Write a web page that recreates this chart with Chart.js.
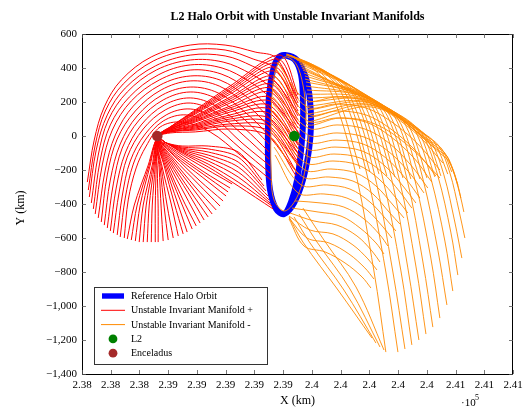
<!DOCTYPE html>
<html>
<head>
<meta charset="utf-8">
<script src="https://cdn.jsdelivr.net/npm/chart.js@4.4.1/dist/chart.umd.min.js"></script>
<style>
  html, body { margin: 0; padding: 0; background: #fff; }
  #wrap { width: 530px; height: 411px; }
</style>
</head>
<body>
<div id="wrap"><canvas id="chart" width="530" height="411"></canvas></div>
<script>
// all values in km
const xMin = 238000, xMax = 241000, xStep = 200;
const yMin = -1400, yMax = 600, yStep = 200;

const l2Point = [239478, 0];
const enceladusPoint = [238524, 0];

// reference halo orbit (traced twice, second pass a bit wider on the right)
const haloOrbit = [
    [239413, 476], [239483, 447], [239525, 359], [239538, 212], [239538, 65], [239525, -82],
    [239497, -259], [239455, -388], [239406, -459], [239351, -429], [239309, -318], [239295, -141],
    [239295, 65], [239302, 241], [239330, 388], [239365, 459], [239413, 476],
    [239497, 447], [239559, 341], [239587, 212], [239594, 65], [239580, -82], [239538, -259],
    [239476, -394], [239406, -459], [239351, -429], [239309, -318], [239295, -141], [239295, 65],
    [239302, 241], [239330, 388], [239365, 459], [239413, 476],
];

// manifold + : arches over the top, down the far left
const manifoldPlusArches = [
    [[239490, 235], [239351, 459], [239205, 494], [238996, 535], [238753, 535], [238482, 465], [238273, 329], [238155, 171], [238085, -24], [238037, -271]],
    [[239504, 176], [239337, 400], [239191, 453], [238996, 506], [238753, 506], [238496, 441], [238287, 306], [238162, 147], [238092, -53], [238044, -318]],
    [[239518, 118], [239323, 341], [239184, 412], [238996, 471], [238753, 476], [238510, 412], [238301, 282], [238176, 124], [238099, -82], [238051, -359]],
    [[239518, 59], [239316, 282], [239177, 365], [238982, 435], [238753, 447], [238517, 388], [238315, 259], [238183, 94], [238113, -112], [238065, -394]],
    [[239525, 0], [239309, 224], [239170, 318], [238975, 400], [238753, 418], [238530, 359], [238329, 229], [238197, 65], [238127, -141], [238079, -429]],
    [[239518, -59], [239302, 165], [239163, 271], [238968, 365], [238753, 388], [238537, 329], [238343, 206], [238211, 35], [238141, -171], [238092, -459]],
    [[239518, -118], [239302, 106], [239156, 224], [238961, 329], [238753, 353], [238544, 300], [238357, 176], [238232, 6], [238162, -200], [238113, -482]],
    [[239511, -171], [239302, 53], [239149, 182], [238955, 294], [238753, 324], [238551, 271], [238371, 147], [238245, -18], [238176, -229], [238134, -506]],
    [[239504, -224], [239302, 0], [239142, 135], [238948, 253], [238753, 288], [238558, 241], [238384, 118], [238266, -47], [238197, -259], [238155, -524]],
    [[239302, -47], [239135, 94], [238941, 218], [238753, 259], [238565, 212], [238398, 94], [238280, -71], [238218, -282], [238176, -541]],
    [[239302, -94], [239128, 47], [238934, 176], [238753, 224], [238572, 182], [238412, 65], [238301, -100], [238238, -306], [238197, -559]],
    [[239302, -135], [239121, 6], [238927, 141], [238753, 194], [238579, 153], [238426, 41], [238315, -124], [238259, -329], [238218, -571]],
    [[239309, -176], [239114, -41], [238920, 106], [238753, 159], [238586, 124], [238440, 12], [238336, -147], [238280, -353], [238245, -582]],
    [[239309, -218], [239107, -76], [238906, 65], [238725, 124], [238565, 88], [238440, -24], [238357, -165], [238301, -365], [238266, -594]],
    [[239316, -259], [239101, -112], [238892, 24], [238697, 82], [238544, 53], [238447, -59], [238377, -188], [238322, -376], [238294, -600]],
];

// manifold + : from the lower side of the halo, under Enceladus, down-left
const manifoldPlusLower = [
    [[239253, -259], [239087, -94], [238878, -59], [238697, -59], [238586, -41], [238524, -12], [238461, -171], [238364, -406], [238315, -606]],
    [[239267, -294], [239087, -124], [238878, -76], [238697, -65], [238586, -41], [238524, -12], [238468, -171], [238384, -406], [238343, -612]],
    [[239281, -323], [239087, -153], [238878, -94], [238697, -71], [238586, -41], [238524, -12], [238475, -171], [238405, -406], [238371, -618]],
    [[239295, -353], [239087, -182], [238878, -112], [238697, -76], [238586, -41], [238524, -12], [238489, -171], [238426, -406], [238398, -624]],
    [[239302, -376], [239087, -212], [238878, -129], [238697, -82], [238586, -41], [238524, -12], [238496, -171], [238447, -406], [238426, -624]],
    [[239309, -394], [239087, -241], [238878, -147], [238697, -88], [238586, -41], [238524, -12], [238503, -171], [238468, -406], [238454, -624]],
    [[239323, -412], [239087, -271], [238878, -165], [238697, -94], [238586, -41], [238524, -12], [238510, -171], [238489, -406], [238482, -624]],
    [[239330, -429], [239087, -294], [238878, -182], [238697, -100], [238586, -41], [238524, -12], [238517, -171], [238510, -406], [238510, -624]],
];

// manifold + : from the upper side of the halo through the Enceladus flyby
const manifoldPlusFlyby = [
    [[239504, 241], [239379, 476], [239031, 294], [238788, 153], [238614, 53], [238524, -6], [238524, -194], [238530, -424], [238530, -624]],
    [[239504, 218], [239365, 453], [239031, 282], [238788, 147], [238614, 53], [238524, -6], [238537, -188], [238551, -424], [238565, -618]],
    [[239504, 194], [239351, 429], [239031, 271], [238788, 141], [238614, 53], [238524, -6], [238544, -188], [238572, -418], [238600, -612]],
    [[239504, 171], [239344, 406], [239031, 259], [238788, 135], [238614, 47], [238524, -6], [238551, -182], [238593, -412], [238635, -600]],
    [[239504, 147], [239337, 382], [239031, 247], [238788, 129], [238614, 47], [238524, -6], [238558, -182], [238621, -400], [238670, -588]],
    [[239504, 118], [239330, 353], [239031, 229], [238788, 118], [238614, 47], [238524, -6], [238572, -176], [238642, -394], [238704, -576]],
    [[239504, 94], [239323, 329], [239031, 218], [238788, 112], [238614, 41], [238524, -6], [238579, -176], [238663, -388], [238732, -565]],
    [[239504, 71], [239316, 306], [239031, 206], [238788, 106], [238614, 41], [238524, -6], [238586, -171], [238683, -376], [238767, -547]],
    [[239504, 47], [239316, 282], [239031, 194], [238788, 100], [238614, 41], [238524, -6], [238593, -165], [238697, -365], [238795, -529]],
    [[239504, 24], [239309, 259], [239031, 176], [238788, 94], [238614, 41], [238524, -6], [238600, -159], [238718, -347], [238822, -512]],
    [[239504, -6], [239309, 229], [239031, 165], [238788, 88], [238614, 35], [238524, -6], [238607, -153], [238739, -335], [238850, -494]],
    [[239504, -29], [239309, 206], [239031, 153], [238788, 82], [238614, 35], [238524, -6], [238614, -147], [238753, -323], [238878, -476]],
    [[239504, -53], [239302, 182], [239031, 141], [238788, 71], [238614, 35], [238524, -6], [238621, -141], [238774, -312], [238906, -459]],
    [[239504, -76], [239302, 159], [239031, 124], [238788, 65], [238614, 29], [238524, -6], [238628, -135], [238788, -300], [238934, -435]],
    [[239504, -100], [239302, 135], [239031, 112], [238788, 59], [238614, 29], [238524, -6], [238635, -129], [238809, -282], [238961, -412]],
    [[239504, -129], [239302, 106], [239031, 100], [238788, 53], [238614, 29], [238524, -6], [238642, -118], [238822, -265], [238982, -382]],
    [[239504, -153], [239302, 82], [239031, 88], [238788, 47], [238614, 24], [238524, -6], [238642, -112], [238836, -241], [239003, -353]],
    [[239504, -176], [239302, 59], [239031, 71], [238788, 41], [238614, 24], [238524, -6], [238649, -106], [238843, -224], [239017, -329]],
    [[239490, -206], [239302, 29], [239031, 59], [238788, 35], [238614, 24], [238524, -6], [238649, -94], [238850, -212], [239031, -306]],
    [[239490, -235], [239302, 0], [239031, 41], [238788, 24], [238614, 18], [238524, -6], [238656, -88], [238864, -194], [239045, -282]],
];

// manifold - : along the upper envelope, then steeply down (some still on their way)
const manifoldMinusLegs = [
    [[239420, 482], [239552, 435], [239719, 282], [239893, -176], [240032, -794], [240115, -1271]],
    [[239420, 476], [239594, 418], [239761, 265], [239935, -194]],
    [[239427, 482], [239643, 400], [239810, 247], [239976, -200], [240115, -800], [240199, -1271]],
    [[239434, 476], [239677, 382], [239844, 235], [240004, -212]],
    [[239448, 476], [239712, 371], [239872, 224], [240032, -212], [240164, -800], [240248, -1253]],
    [[239455, 471], [239747, 353], [239907, 212], [240067, -224]],
    [[239469, 465], [239782, 335], [239935, 194], [240088, -229], [240220, -794], [240296, -1229]],
    [[239476, 459], [239817, 318], [239969, 182], [240122, -235]],
    [[239490, 453], [239851, 306], [239997, 171], [240150, -235], [240268, -776], [240345, -1200]],
    [[239497, 447], [239886, 288], [240032, 153], [240178, -241]],
    [[239511, 435], [239921, 271], [240060, 141], [240206, -247], [240324, -765], [240394, -1165]],
    [[239518, 424], [239956, 253], [240095, 129], [240234, -247]],
    [[239525, 412], [239761, 312], [239990, 235], [240129, 112], [240262, -253], [240373, -741], [240442, -1124]],
    [[239532, 400], [239782, 300], [240025, 218], [240157, 100], [240289, -253]],
    [[239538, 388], [239803, 294], [240060, 200], [240192, 88], [240317, -259], [240428, -718], [240491, -1071]],
    [[239545, 371], [239823, 282], [240095, 182], [240220, 71], [240352, -253]],
    [[239552, 353], [239844, 276], [240129, 165], [240255, 59], [240373, -253], [240477, -671], [240540, -994]],
    [[239552, 335], [239858, 265], [240164, 147], [240282, 47], [240401, -247]],
    [[239559, 318], [239879, 259], [240199, 129], [240317, 35], [240428, -247], [240526, -618], [240581, -912]],
    [[239559, 294], [239900, 247], [240234, 112], [240345, 24], [240456, -241]],
    [[239566, 271], [239921, 241], [240268, 88], [240373, 6], [240477, -235], [240567, -565], [240616, -818]],
    [[239566, 247], [239935, 229], [240303, 65], [240401, -12], [240498, -235]],
    [[239573, 224], [239956, 218], [240338, 41], [240428, -29], [240519, -229], [240595, -506], [240644, -718]],
    [[239573, 200], [239976, 212], [240373, 18], [240456, -41], [240546, -224]],
    [[239573, 176], [239990, 200], [240407, -6], [240484, -59], [240561, -218], [240623, -435], [240665, -600]],
    [[239573, 153], [240004, 194], [240435, -35], [240505, -76], [240574, -212]],
    [[239573, 129], [240025, 182], [240470, -65], [240526, -100], [240581, -200], [240630, -341], [240658, -447]],
    [[239573, 106], [240039, 176], [240498, -94], [240540, -118], [240581, -194], [240616, -288], [240637, -365]],
    [[239573, 82], [240053, 165], [240526, -124], [240574, -182], [240616, -288]],
];

// manifold - : from the bottom of the halo, down to the right
const manifoldMinusInner = [
    [[239441, -476], [239538, -624], [239782, -906], [240018, -1188]],
    [[239476, -476], [239587, -629], [239823, -906], [240046, -1218]],
    [[239511, -459], [239636, -624], [239865, -900], [240074, -1241]],
    [[239538, -424], [239684, -612], [239907, -888], [240102, -1259]],
];

// manifold - : shorter arcs leaving the right side of the halo
const manifoldMinusArcs = [
    [[239358, 435], [239559, 212], [239768, 229], [239976, 206], [240157, 124], [240352, -6], [240512, -159]],
    [[239351, 394], [239566, 171], [239768, 188], [239976, 165], [240157, 82], [240338, -47], [240491, -200]],
    [[239344, 353], [239573, 129], [239775, 147], [239976, 124], [240150, 41], [240324, -88], [240463, -235]],
    [[239337, 312], [239573, 88], [239775, 106], [239976, 82], [240143, 0], [240310, -129], [240435, -271]],
    [[239330, 271], [239573, 47], [239775, 65], [239969, 41], [240136, -41], [240289, -171], [240407, -306]],
    [[239330, 229], [239573, 6], [239775, 18], [239963, -6], [240129, -88], [240275, -212], [240380, -335]],
    [[239330, 188], [239573, -35], [239768, -24], [239956, -47], [240115, -129], [240255, -253], [240352, -365]],
    [[239330, 147], [239566, -76], [239761, -65], [239949, -88], [240102, -171], [240234, -294], [240324, -394]],
    [[239330, 106], [239566, -118], [239754, -106], [239935, -129], [240088, -212], [240213, -329], [240296, -424]],
    [[239330, 65], [239559, -159], [239747, -147], [239921, -171], [240067, -253], [240192, -371], [240268, -453]],
    [[239330, 24], [239552, -200], [239733, -194], [239907, -218], [240046, -294], [240171, -412], [240241, -482]],
    [[239330, -18], [239538, -241], [239719, -241], [239886, -265], [240025, -341], [240143, -453], [240213, -518]],
    [[239337, -65], [239525, -288], [239705, -288], [239865, -312], [240004, -388], [240115, -488], [240185, -559]],
    [[239344, -112], [239504, -335], [239684, -341], [239844, -365], [239983, -435], [240095, -535], [240157, -600]],
    [[239483, -382], [239664, -394], [239823, -418], [239963, -488], [240074, -582], [240129, -647]],
    [[239462, -424], [239643, -447], [239803, -471], [239935, -541], [240046, -629], [240102, -694]],
    [[239448, -453], [239615, -500], [239775, -524], [239914, -588], [240018, -676], [240074, -741]],
    [[239441, -471], [239587, -553], [239747, -576], [239886, -641], [239990, -723], [240053, -788]],
    [[239441, -482], [239566, -600], [239719, -629], [239858, -694], [239969, -776], [240032, -841]],
    [[239441, -488], [239545, -647], [239692, -682], [239831, -747], [239949, -829], [240011, -894]],
];

// manifold - : one branch that winds once round the halo before leaving
const manifoldMinusLoop = [
    [239580, 0], [239559, -171], [239504, -347], [239413, -441], [239337, -376], [239316, -200],
    [239316, 35], [239323, 241], [239351, 400], [239413, 465], [239490, 424], [239538, 300],
    [239559, 153], [239573, 65], [239796, 106], [240039, 71], [240282, -65], [240491, -247],
];

const RED = "rgb(255,0,0)";
const ORANGE = "rgb(255,138,0)";
const BLUE = "rgb(0,0,255)";
const GREEN = "rgb(0,128,0)";
const BROWN = "rgb(165,42,42)";
const SERIF = "'Liberation Serif', 'Times New Roman', serif";

const toXY = (pts) => pts.map(([x, y]) => ({ x, y }));

function curveSets(curves, color, width, order, tension) {
    return curves.map((c) => ({
        data: toXY(c),
        showLine: true,
        borderColor: color,
        borderWidth: width,
        pointRadius: 0,
        tension: tension,
        fill: false,
        order: order,
    }));
}

const datasets = [
    {
        label: "Reference Halo Orbit",
        data: toXY(haloOrbit),
        showLine: true,
        borderColor: BLUE,
        borderWidth: 6,
        pointRadius: 0,
        tension: 0.35,
        order: 3,
    },
    ...curveSets(manifoldPlusArches, RED, 1, 2, 0.35),
    ...curveSets(manifoldPlusLower, RED, 1, 2, 0.3),
    ...curveSets(manifoldPlusFlyby, RED, 1, 2, 0.3),
    ...curveSets(manifoldMinusLegs, ORANGE, 0.9, 1, 0.35),
    ...curveSets(manifoldMinusInner, ORANGE, 0.9, 1, 0.35),
    ...curveSets(manifoldMinusArcs, ORANGE, 0.9, 1, 0.35),
    ...curveSets([manifoldMinusLoop], ORANGE, 0.9, 1, 0.35),
    {
        label: "L2",
        data: toXY([l2Point]),
        pointRadius: 5.3,
        pointBackgroundColor: GREEN,
        pointBorderWidth: 0,
        order: 0,
    },
    {
        label: "Enceladus",
        data: toXY([enceladusPoint]),
        pointRadius: 5.3,
        pointBackgroundColor: BROWN,
        pointBorderWidth: 0,
        order: 0,
    },
];

const legendItems = [
    { text: "Reference Halo Orbit", kind: "bar", color: BLUE },
    { text: "Unstable Invariant Manifold +", kind: "line", color: RED },
    { text: "Unstable Invariant Manifold -", kind: "line", color: ORANGE },
    { text: "L2", kind: "dot", color: GREEN },
    { text: "Enceladus", kind: "dot", color: BROWN },
];

const decorations = {
    id: "decorations",
    afterDraw(chart) {
        const { ctx, chartArea: a, scales } = chart;
        ctx.save();

        // frame and inward ticks on all four sides
        ctx.strokeStyle = "#000";
        ctx.lineWidth = 1;
        ctx.strokeRect(a.left + 0.5, a.top + 0.5, a.right - a.left - 1, a.bottom - a.top);
        ctx.strokeStyle = "#555";
        ctx.lineWidth = 0.8;
        ctx.beginPath();
        scales.x.ticks.forEach((t) => {
            const px = Math.round(scales.x.getPixelForValue(t.value)) + 0.5;
            ctx.moveTo(px, a.bottom); ctx.lineTo(px, a.bottom - 4);
            ctx.moveTo(px, a.top); ctx.lineTo(px, a.top + 4);
        });
        scales.y.ticks.forEach((t) => {
            const py = Math.round(scales.y.getPixelForValue(t.value)) + 0.5;
            ctx.moveTo(a.left, py); ctx.lineTo(a.left + 4, py);
            ctx.moveTo(a.right, py); ctx.lineTo(a.right - 4, py);
        });
        ctx.stroke();

        // title and axis titles
        ctx.fillStyle = "#000";
        ctx.textAlign = "center";
        ctx.textBaseline = "middle";
        ctx.font = `bold 12px ${SERIF}`;
        ctx.fillText("L2 Halo Orbit with Unstable Invariant Manifolds", (a.left + a.right) / 2, 17);
        ctx.font = `12px ${SERIF}`;
        ctx.fillText("X (km)", (a.left + a.right) / 2, 401);
        ctx.save();
        ctx.translate(21, (a.top + a.bottom) / 2 + 4);
        ctx.rotate(-Math.PI / 2);
        ctx.fillText("Y (km)", 0, 0);
        ctx.restore();
        ctx.font = `11px ${SERIF}`;
        ctx.textAlign = "left";
        ctx.fillText("\u00b710", 461, 403);
        ctx.font = `8px ${SERIF}`;
        ctx.fillText("5", 475, 398);

        // legend box, lower left inside the plot
        const bx = a.left + 12, by = a.bottom - 87, bw = 173, bh = 77;
        ctx.fillStyle = "#fff";
        ctx.fillRect(bx, by, bw, bh);
        ctx.strokeStyle = "#333";
        ctx.lineWidth = 1;
        ctx.strokeRect(bx + 0.5, by + 0.5, bw, bh);
        ctx.font = `10px ${SERIF}`;
        ctx.textBaseline = "middle";
        legendItems.forEach((it, i) => {
            const cy = by + 9 + i * 14.3;
            const cx = bx + 19;
            if (it.kind === "bar") {
                ctx.fillStyle = it.color;
                ctx.fillRect(cx - 11, cy - 2.7, 22, 5.4);
            } else if (it.kind === "line") {
                ctx.strokeStyle = it.color;
                ctx.lineWidth = 1;
                ctx.beginPath();
                ctx.moveTo(cx - 12, cy); ctx.lineTo(cx + 12, cy);
                ctx.stroke();
            } else {
                ctx.fillStyle = it.color;
                ctx.beginPath();
                ctx.arc(cx, cy, 4.4, 0, Math.PI * 2);
                ctx.fill();
            }
            ctx.fillStyle = "#000";
            ctx.textAlign = "left";
            ctx.fillText(it.text, bx + 37, cy + 0.5);
        });
        ctx.restore();
    },
};

function fmtX(v) {
    return String(+(v / 1e5).toFixed(2));
}

function fmtY(v) {
    return (v < 0 ? "\u2212" : "") + Math.abs(v).toLocaleString("en-US");
}

document.addEventListener("DOMContentLoaded", () => {
    Chart.defaults.font.family = SERIF;
    Chart.defaults.font.size = 11;
    Chart.defaults.color = "#000";

    new Chart(document.getElementById("chart").getContext("2d"), {
        type: "scatter",
        data: { datasets },
        options: {
            responsive: false,
            devicePixelRatio: 1,
            animation: false,
            events: [],
            layout: { padding: { top: 34, right: 17, left: 0, bottom: 0 } },
            plugins: {
                legend: { display: false },
                tooltip: { enabled: false },
                title: { display: false },
            },
            scales: {
                x: {
                    type: "linear",
                    min: xMin,
                    max: xMax,
                    grid: { display: false, drawTicks: false },
                    border: { display: false },
                    ticks: { stepSize: xStep, padding: 5, maxRotation: 0, autoSkip: false, callback: fmtX },
                    afterFit: (s) => { s.height = 37; },
                },
                y: {
                    type: "linear",
                    min: yMin,
                    max: yMax,
                    grid: { display: false, drawTicks: false },
                    border: { display: false },
                    ticks: { stepSize: yStep, padding: 5, autoSkip: false, callback: fmtY },
                    afterFit: (s) => { s.width = 82; },
                },
            },
        },
        plugins: [decorations],
    });
});
</script>
</body>
</html>
